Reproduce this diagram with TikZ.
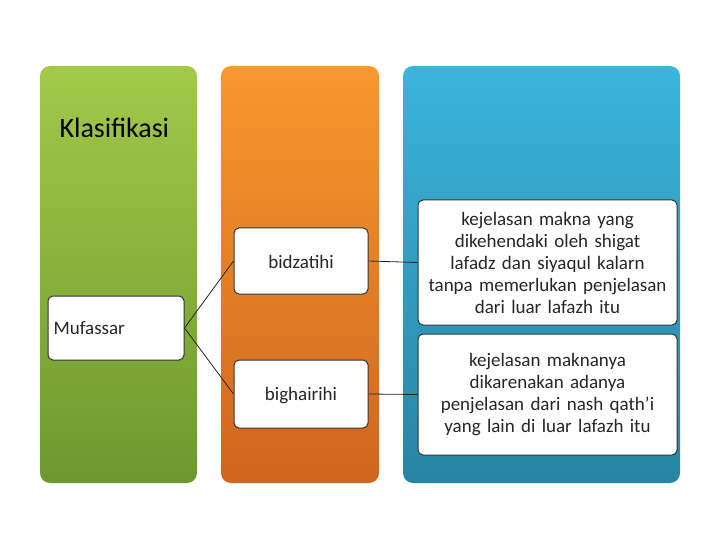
\documentclass[tikz,border=0pt]{standalone}
\usepackage{fontspec}
\setmainfont{Carlito}
\begin{document}
\begin{tikzpicture}[x=1pt,y=-1pt,
 col/.style={rounded corners=10pt},
 wbox/.style={draw=black!80,line width=1pt,fill=white,rounded corners=5pt},
 txt/.style={font=\fontsize{19}{22}\selectfont,align=center,text=black!85},
 conn/.style={draw=black!85,line width=0.8pt}]
\useasboundingbox (0,0) rectangle (720,540);
\shade[col,top color={rgb,255:red,163;green,201;blue,74},bottom color={rgb,255:red,108;green,152;blue,46}] (40,66) rectangle (197,483);
\shade[col,top color={rgb,255:red,248;green,152;blue,45},bottom color={rgb,255:red,206;green,102;blue,30}] (221,66) rectangle (379,483);
\shade[col,top color={rgb,255:red,58;green,181;blue,221},bottom color={rgb,255:red,40;green,132;blue,163}] (403,66) rectangle (680,483);
\node[anchor=west,font=\fontsize{28}{32}\selectfont] (kl) at (56,128) {Klasifikasi};
\node[wbox,minimum width=136pt,minimum height=64pt] (muf) at (116,328) {};
\node[txt,anchor=west] (muft) at (50,328) {Mufassar};
\node[wbox,minimum width=134pt,minimum height=66pt] (bz) at (301,261) {};
\node[txt] (bzt) at (301,262) {bidzatihi};
\node[wbox,minimum width=134pt,minimum height=68pt] (bh) at (301,394) {};
\node[txt] (bht) at (301,396) {bighairihi};
\node[wbox,minimum width=259pt,minimum height=125pt,txt,text width=256pt,inner sep=1pt] (r1) at (547.5,262.5) {kejelasan makna yang\\dikehendaki oleh shigat\\lafadz dan siyaqul kalarn\\tanpa memerlukan penjelasan\\dari luar lafazh itu};
\node[wbox,minimum width=259pt,minimum height=121pt,txt,text width=256pt,inner sep=1pt] (r2) at (547.5,394.5) {kejelasan maknanya\\dikarenakan adanya\\penjelasan dari nash qath'i\\yang lain di luar lafazh itu};
\draw[conn] (muf.east) -- (bz.west);
\draw[conn] (muf.east) -- (bh.west);
\draw[conn] (bz.east) -- (r1.west);
\draw[conn] (bh.east) -- (r2.west);
\end{tikzpicture}
\end{document}
